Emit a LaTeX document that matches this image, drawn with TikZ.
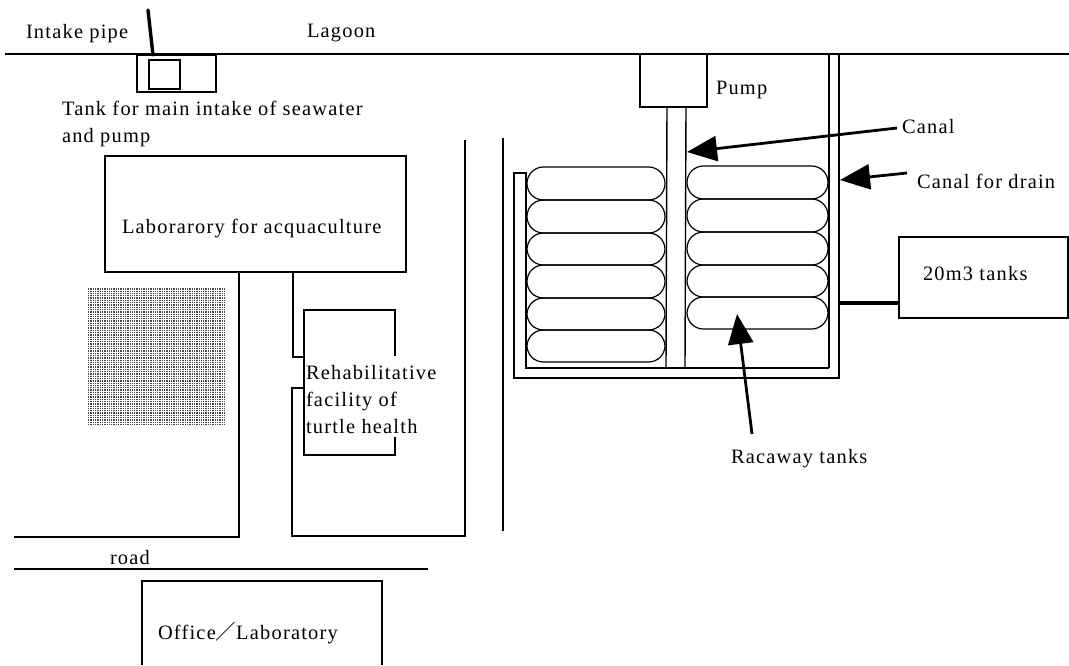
\documentclass[tikz,border=0pt]{standalone}
\usepackage{fontspec}
\setmainfont[LetterSpace=6]{Liberation Serif}
\newfontfamily\cjk{Noto Sans CJK JP}
\usetikzlibrary{arrows.meta}
\tikzset{
  x=1pt,y=-1pt,
  every node/.style={inner sep=0pt,outer sep=0pt},
  wall/.style={draw=black,line width=1.4pt},
  thin wall/.style={draw=black,line width=1.1pt},
  thick wall/.style={draw=black,line width=2.2pt},
  pipe/.style={draw=black,line width=3.4pt},
  box/.style={draw=black,line width=1.3pt,fill=white,anchor=north west},
  tank/.style={draw=black,line width=1.2pt,rounded corners=16.4pt,anchor=north west},
  label/.style={font=\fontsize{20.4}{24}\selectfont,anchor=base west,align=left},
  callout/.style={draw=black,line width=2.8pt,-{Triangle[length=30pt,width=25pt]},shorten >=0pt},
}
\begin{document}
\begin{tikzpicture}
\useasboundingbox (0,0) rectangle (1069,665);
% shoreline
\coordinate (shoreL) at (5,54);
\coordinate (shoreR) at (1069,54);
\draw[wall] (shoreL) -- (shoreR);
% intake
\node[box,minimum width=79pt,minimum height=37pt] (intake) at (137,55) {};
\node[box,minimum width=31pt,minimum height=29pt] (intakeIn) at (149,60) {};
\coordinate (pipeTop) at (148,10);
\coordinate (pipeEnd) at (153,55);
\draw[pipe,line cap=round] (pipeTop) -- (pipeEnd);
\node[label] (lIntake) at (26,38) {Intake pipe};
\node[label] (lLagoon) at (307,37) {Lagoon};
\node[label] (lTank) at (62,115) {Tank for main intake of seawater};
\node[label] (lTank2) at (62,142) {and pump};
% lab
\node[box,minimum width=301pt,minimum height=116pt] (lab) at (105,156) {};
\node[label] (lLab) at (122,233) {Laborarory for acquaculture};
% stipple
\fill[black!72] (87,288) rectangle (225,425);
\draw[white,line width=0.55pt,step=2.3pt] (87,288) grid (225,425);
% plots
\coordinate (pa) at (239,272);
\coordinate (pb) at (239,537);
\coordinate (pc) at (14,537);
\draw[wall] (pa) -- (pb) -- (pc);
\coordinate (qa) at (293,272);
\coordinate (qb) at (293,357);
\coordinate (qc) at (304,357);
\draw[wall] (qa) -- (qb) -- (qc);
\coordinate (ra) at (395,356);
\coordinate (rb) at (395,310);
\coordinate (rc) at (304,310);
\coordinate (rd) at (304,455);
\coordinate (re) at (395,455);
\coordinate (rf) at (395,437);
\draw[wall] (ra) -- (rb) -- (rc) -- (rd) -- (re) -- (rf);
\coordinate (sa) at (304,388);
\coordinate (sb) at (292,388);
\coordinate (sc) at (292,536);
\coordinate (sd) at (465,536);
\coordinate (se) at (465,140);
\draw[wall] (sa) -- (sb) -- (sc) -- (sd) -- (se);
\coordinate (ta) at (503,138);
\coordinate (tb) at (503,531);
\draw[wall] (ta) -- (tb);
\node[label] (lRehab) at (306,379) {Rehabilitative};
\node[label] (lRehab2) at (306,406) {facility of};
\node[label] (lRehab3) at (306,433) {turtle health};
% road
\coordinate (roadL) at (14,569);
\coordinate (roadR) at (428,569);
\draw[wall] (roadL) -- (roadR);
\node[label] (lRoad) at (110,564) {road};
% office
\coordinate (oa) at (142,665);
\coordinate (ob) at (142,581);
\coordinate (oc) at (382,581);
\coordinate (od) at (382,665);
\draw[wall] (oa) -- (ob) -- (oc) -- (od);
\node[label] (lOffice) at (158,639) {Office{\cjk ／}Laboratory};
% pump + canal
\node[box,minimum width=67pt,minimum height=53pt] (pump) at (640,54) {};
\node[label] (lPump) at (716,94) {Pump};
\coordinate (c1t) at (667,107);
\coordinate (c1b) at (666,367);
\coordinate (c2t) at (686,107);
\coordinate (c2b) at (685,367);
\draw[wall] (c1t) -- (c1b);
\draw[wall] (c2t) -- (c2b);
% tanks left
\foreach \i/\y/\h in {a/167/33,b/200/33,c/233/32,d/265/33,e/298/32,f/330/32}
  \node[tank,minimum width=138pt,minimum height=\h pt] (L\i) at (527,\y) {};
% tanks right
\foreach \i/\y/\h in {a/166/33,b/199/33,c/232/33,d/265/32,e/297/32}
  \node[tank,minimum width=141pt,minimum height=\h pt] (R\i) at (687,\y) {};
% drain channel
\coordinate (d1) at (829,54);
\coordinate (d2) at (829,368);
\coordinate (d3) at (526,368);
\coordinate (d4) at (526,173);
\coordinate (d5) at (514,173);
\coordinate (d6) at (514,378);
\coordinate (d7) at (839,378);
\coordinate (d8) at (839,54);
\draw[thin wall] (d1) -- (d2);
\draw[thick wall] (d2) -- (d3) -- (d4) -- (d5) -- (d6) -- (d7) -- (d8);
% 20 m3 tanks
\node[box,minimum width=169pt,minimum height=81pt] (big) at (899,237) {};
\coordinate (conn) at (839,303);
\coordinate (conn2) at (899,303);
\draw[pipe] (conn) -- (conn2);
\node[label] (lBig) at (923,280) {20m3 tanks};
% callouts
\coordinate (aCanalS) at (897,128);
\coordinate (aCanalT) at (687,152);
\draw[callout] (aCanalS) -- (aCanalT);
\node[label] (lCanal) at (902,133) {Canal};
\coordinate (aDrainS) at (907,173);
\coordinate (aDrainT) at (840,180);
\draw[callout] (aDrainS) -- (aDrainT);
\node[label] (lDrain) at (917,188) {Canal for drain};
\coordinate (aRaceS) at (752,434);
\coordinate (aRaceT) at (737,314);
\draw[callout] (aRaceS) -- (aRaceT);
\node[label] (lRace) at (731,463) {Racaway tanks};
\end{tikzpicture}
\end{document}
